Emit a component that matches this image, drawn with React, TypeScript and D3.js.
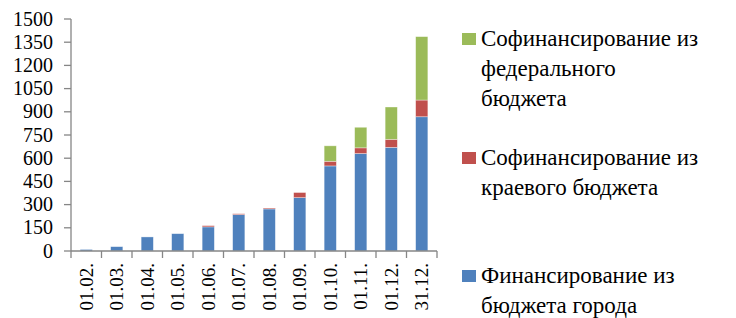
import * as d3 from 'd3';

const dates = ['01.02.', '01.03.', '01.04.', '01.05.', '01.06.', '01.07.', '01.08.', '01.09.', '01.10.', '01.11.', '01.12.', '31.12.'];
const cityBudget = [10, 28, 91, 112, 156, 235, 272, 345, 550, 630, 670, 868];
const regionalBudget = [0, 0, 0, 0, 8, 6, 6, 33, 30, 37, 52, 108];
const federalBudget = [0, 0, 0, 0, 0, 0, 0, 0, 100, 133, 209, 410];
const yTicks = [0, 150, 300, 450, 600, 750, 900, 1050, 1200, 1350, 1500];

const seriesNames = ['city', 'regional', 'federal'];
const colors = ['#4F81BD', '#C0504D', '#9BBB59'];
const legendItems = [
  { color: '#9BBB59', lines: ['Софинансирование из', 'федерального', 'бюджета'], base: 46 },
  { color: '#C0504D', lines: ['Софинансирование из', 'краевого бюджета'], base: 165 },
  { color: '#4F81BD', lines: ['Финансирование из', 'бюджета города'], base: 283 },
];

const AXIS = '#868686';
const FONT = 'Liberation Serif';

// the svg sits at the body's 8px margin, so page coordinates are shifted by it
const M = 8;
const left = 71 - M;
const right = 437 - M;
const top = 19 - M;
const bottom = 251 - M;

const rows = dates.map((d, i) => ({
  date: d,
  city: cityBudget[i],
  regional: regionalBudget[i],
  federal: federalBudget[i],
}));

const x = d3.scaleBand().domain(dates).range([left, right]).paddingInner(0.6).paddingOuter(0.3);
const xb = d3.scaleBand().domain(dates).range([left, right]);
const y = d3.scaleLinear().domain([0, 1500]).range([bottom, top]);
const layers = d3.stack<any>().keys(seriesNames)(rows);

const App = () => (
  <svg width={728} height={310} fontFamily={FONT}>
    <rect x={0} y={0} width={728} height={310} fill="#fff" />
    {layers.map((layer, li) => (
      <g key={li} fill={colors[li]}>
        {layer.map((d: any) => (
          <rect
            key={d.data.date}
            x={x(d.data.date)}
            width={x.bandwidth()}
            y={y(d[1])}
            height={y(d[0]) - y(d[1])}
            stroke="rgba(255,255,255,0.5)"
            strokeWidth={0.7}
          />
        ))}
      </g>
    ))}

    {/* y axis */}
    <line x1={left} x2={left} y1={top} y2={bottom} stroke={AXIS} strokeWidth={1.3} />
    {yTicks.map(t => (
      <line key={t} x1={left - 7} x2={left} y1={y(t)} y2={y(t)} stroke={AXIS} strokeWidth={1.3} />
    ))}
    {yTicks.map(t => (
      <text key={t} x={53 - M} y={y(t) + 6.5} textAnchor="end" fontFamily={FONT} fontSize={20} fill="#000">
        {t}
      </text>
    ))}

    {/* x axis */}
    <line x1={left} x2={right} y1={bottom} y2={bottom} stroke={AXIS} strokeWidth={1.3} />
    {[...dates.map(d => xb(d)!), right].map((v, i) => (
      <line key={i} x1={v} x2={v} y1={bottom} y2={bottom + 7} stroke={AXIS} strokeWidth={1.3} />
    ))}
    {dates.map(d => (
      <text
        key={d}
        transform={`translate(${xb(d)! + xb.bandwidth() / 2 + 6.5},${bottom + 12}) rotate(-90)`}
        textAnchor="end"
        fontFamily={FONT}
        fontSize={19}
        fill="#000"
      >
        {d}
      </text>
    ))}

    {/* legend */}
    {legendItems.map(item => (
      <rect key={item.color} x={462 - M} y={item.base - 13 - M} width={14} height={12} fill={item.color} />
    ))}
    {legendItems.map(item =>
      item.lines.map((l, i) => (
        <text key={item.color + i} x={481 - M} y={item.base - M + i * 30} fontFamily={FONT} fontSize={23} fill="#000">
          {l}
        </text>
      ))
    )}
  </svg>
);

export default App;
